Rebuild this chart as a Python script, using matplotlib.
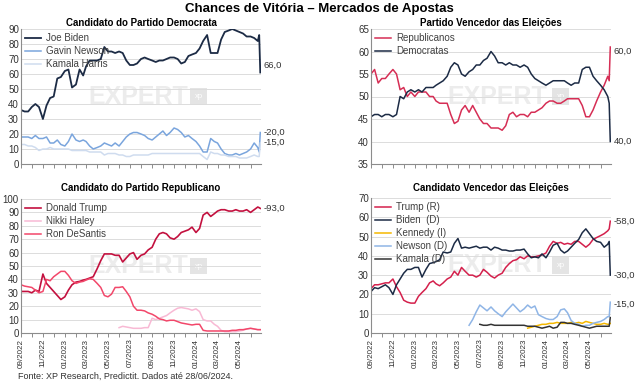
import numpy as np
import pandas as pd
import matplotlib
matplotlib.use("Agg")
import matplotlib.pyplot as plt
import matplotlib.dates as mdates

plt.rcParams['font.family'] = ['Liberation Sans', 'DejaVu Sans']

# sampling dates: 1st, 11th and 21st of each month, plus the last days of June 2024
months = pd.date_range("2022-09-01", "2024-06-01", freq="MS")
dates = [m + pd.Timedelta(days=d) for m in months for d in (0, 10, 20)]
dates += [pd.Timestamp("2024-06-25"), pd.Timestamp("2024-06-28")]
N = len(dates)

def pad(vals):
    return [np.nan] * (N - len(vals)) + vals

# --- Candidato do Partido Democrata
biden_dem = [36, 35, 35, 38, 40, 38, 30, 39, 44, 45,
             57, 58, 62, 63, 51, 53, 63, 59, 65, 69,
             69, 69, 70, 78, 75, 75, 74, 75, 74, 69,
             66, 66, 67, 70, 71, 70, 69, 68, 69, 69,
             70, 71, 71, 70, 67, 68, 72, 73, 74, 77,
             82, 86, 74, 74, 74, 83, 88, 89, 90, 89,
             88, 87, 85, 85, 84, 82, 86, 61]
newsom_dem = [18, 18, 18, 17, 19, 17, 17, 18, 14, 14,
              16, 13, 12, 15, 20, 16, 15, 16, 15, 12,
              10, 11, 12, 14, 13, 12, 14, 12, 15, 18,
              20, 21, 21, 20, 19, 17, 16, 18, 20, 22,
              19, 21, 24, 23, 21, 18, 19, 17, 15, 12,
              8, 8, 17, 15, 14, 10, 7, 6, 6, 7,
              6, 7, 8, 10, 14, 11, 8, 21]
harris_dem = [13, 13, 12, 12, 11, 9, 10, 10, 11, 10,
              10, 10, 10, 10, 9, 9, 9, 9, 9, 8,
              8, 8, 8, 6, 7, 7, 7, 6, 6, 5,
              5, 6, 6, 6, 6, 6, 7, 7, 7, 7,
              7, 7, 7, 7, 7, 7, 7, 7, 7, 7,
              5, 3, 8, 7, 7, 6, 6, 5, 5, 5,
              4, 4, 4, 5, 6, 5, 5, 14]

# --- Partido Vencedor das Eleições
rep_party = [55, 56, 53, 54, 54, 55, 56, 55, 51.5, 52,
             50, 51, 50, 51, 51, 51, 50, 50, 49, 48.5,
             48.5, 48.5, 46, 44, 44.5, 47, 48, 46.5, 48, 46.5,
             45, 44, 44, 43, 43, 43, 42.5, 43.5, 46, 46.5,
             45.5, 46, 46, 45.5, 46.5, 46.5, 47, 47.5, 48.5, 49,
             49, 48.5, 48.5, 49, 49.5, 49.5, 49.5, 49.5, 48, 45.5,
             45.5, 47, 49, 51, 52.5, 54.5, 53.5, 61]
dem_party = [45.5, 46, 46, 45.5, 46, 46, 45.5, 46, 50, 49.5,
             51, 51.5, 51, 51.5, 51, 52, 52, 52, 52.5, 53,
             53.5, 54.5, 56.5, 57.5, 57, 55, 54.5, 55.5, 56, 57,
             57, 58, 58.5, 60, 59, 57.5, 57.5, 57, 57.5, 57,
             57, 56.5, 57, 56.5, 55, 54, 53.5, 53, 52.5, 53,
             53.5, 53.5, 53.5, 53.5, 53, 52.5, 53, 53, 56, 56.5,
             56.5, 54.5, 53.5, 52.5, 51.5, 50, 48.5, 40]

# --- Candidato do Partido Republicano
trump_rep = [31, 31, 31, 30, 32, 31, 44, 37, 34, 31,
             28, 25, 27, 32, 36, 38, 38.5, 39.5, 40, 41,
             42, 48, 54, 59, 59, 59, 58, 58, 53, 56,
             59, 60, 55, 58, 59, 62, 64, 70, 74, 75,
             74, 71, 70, 72, 75, 76, 77, 79, 75, 78,
             88, 90, 87, 89, 91, 92, 92, 91, 91, 92,
             91, 91, 92, 90, 92, 94, 93.5, 93]
haley_rep = pad([4, 5, 4.5, 4, 3.5, 3.5, 3.5, 4, 4, 11,
                 10, 11, 12, 13, 15, 17, 18.5, 19, 18.5, 18,
                 17, 18, 16, 10, 9, 9, 6.5, 5, 2, 1,
                 1, 1, 1, 1.5, 2, 3, 3.5, 3, 2.5, 2.5,
                 2.5])
desantis_rep = [36, 35, 34.5, 34, 32, 30, 31, 40, 39, 42,
                44, 46, 46, 43, 39, 37, 38, 38.5, 39.5, 40.5,
                40, 37, 34, 28, 27, 29, 34, 34, 34.5, 31,
                27, 20, 17, 17, 16.5, 15, 14, 12.5, 10.5, 10,
                9, 9.5, 9.5, 8.5, 7.5, 7, 6.5, 6, 6.5, 6.5,
                2, 1.5, 1.5, 1.5, 1.5, 1.5, 1.5, 1.5, 2, 2,
                2.5, 2.5, 3, 3.5, 3, 2.5, 2.5, 2.5]

# --- Candidato Vencedor das Eleições
trump_win = [23, 25, 25, 25.5, 26, 26, 28, 24, 21, 17,
             16, 15.5, 15.5, 19, 21, 23, 26, 27, 25.5, 24.5,
             26, 28, 29, 32, 30, 34, 32, 30, 30, 29,
             30, 33, 31.5, 29.5, 28.5, 30, 31, 34, 36, 37.5,
             38, 39.5, 38.5, 40, 39.5, 39.5, 40, 40.5, 41.5, 45,
             47.5, 46.5, 47, 46, 46.5, 46, 47.5, 47.5, 46, 44.5,
             46, 48.5, 49.5, 50.5, 51.5, 53, 54, 58]
biden_win = [21.5, 23.5, 23, 24, 25, 23.5, 20, 25, 28, 31,
             33, 33, 34, 34, 29, 33, 36, 36.5, 37, 38,
             42, 41.5, 42, 46.5, 49, 44, 44.5, 44, 44.5, 45,
             44, 44.5, 44.5, 43, 44.5, 44, 43, 43, 42.5, 42.5,
             43, 43, 43.5, 41, 39, 39.5, 39, 41, 39, 42,
             45.5, 46.5, 43, 41.5, 42.5, 44.5, 46.5, 48.5, 52, 54,
             51.5, 49, 47.5, 47, 44.5, 46, 47.5, 30]
kennedy_win = pad([2.5, 3, 3.5, 4, 4.5, 4.5, 5, 5, 5.5, 5,
                   5, 5, 5.5, 5, 5.5, 5, 6, 5.5, 5, 4.5,
                   4.5, 5, 4.5, 4.5, 5])
newsom_win = pad([4, 7, 11, 14.5, 13, 11.5, 13.5, 11.5, 10, 8.5,
                  11, 13, 15, 13, 11, 12.5, 14.5, 13, 14, 9.5,
                  8.5, 7.5, 7, 7, 8.5, 12, 12.5, 10.5, 6.5, 5,
                  4.5, 3.5, 4, 4, 5, 5.5, 6, 7, 8.5, 8.5,
                  16])
harris_win = pad([4.5, 4, 4, 4.5, 4, 4, 4, 4, 4, 4,
                  4, 4, 4, 3.5, 3.5, 3.5, 3, 2.5, 3, 3.5,
                  2.5, 3, 5.5, 5.5, 5, 5, 4.5, 4, 3.5, 3,
                  2.5, 3, 3.5, 3.5, 3.5, 3.5, 3.5, 8])

NAVY = '#1c2b45'
W, H = 639, 382
fig = plt.figure(figsize=(W / 100, H / 100), dpi=100)

def make_ax(left, top, right, bottom):
    return fig.add_axes([left / W, 1 - bottom / H, (right - left) / W, (bottom - top) / H])

def style(ax, title, tpad, ylim, step, xlabels, end_labels, wm):
    ax.set_xlim(pd.Timestamp("2022-09-01"), pd.Timestamp("2024-06-30"))
    ax.set_ylim(*ylim)
    ax.set_yticks(np.arange(ylim[0], ylim[1] + 0.1, step))
    ax.set_title(title, fontsize=7, fontweight='bold', pad=tpad)
    for s in ('top', 'right'):
        ax.spines[s].set_visible(False)
    for s in ('left', 'bottom'):
        ax.spines[s].set_color('#8c8c8c')
        ax.spines[s].set_linewidth(0.8)
    ax.grid(axis='y', color='#dcdcdc', lw=0.7)
    ax.set_axisbelow(True)
    ax.xaxis.set_major_locator(mdates.MonthLocator())
    ax.xaxis.set_major_formatter(mdates.DateFormatter('%m/%Y'))
    ax.tick_params(axis='y', labelsize=7, labelcolor='#333333', length=0, pad=1.5)
    ax.tick_params(axis='x', colors='#8c8c8c', labelcolor='#333333', length=3,
                   width=0.7, pad=1)
    if xlabels:
        ax.tick_params(axis='x', labelrotation=90, labelsize=5.8)
        for i, lab in enumerate(ax.get_xticklabels()):
            lab.set_visible(i % 2 == 0)
    else:
        ax.tick_params(axis='x', labelbottom=False)
    ax.text(wm[0], 0.5, "EXPERT", transform=ax.transAxes, fontsize=18, fontweight='bold',
            color='#ececec', ha='center', va='center', zorder=0)
    ax.text(wm[1], 0.5, "xp", transform=ax.transAxes, fontsize=5.5, color='white',
            ha='center', va='center', zorder=0,
            bbox=dict(boxstyle='square,pad=0.6', fc='#e4e4e4', ec='none'))
    for txt, val in end_labels:
        ax.annotate(txt, xy=(1, val), xycoords=('axes fraction', 'data'), xytext=(2, 0),
                    textcoords='offset points', va='center', ha='left', fontsize=6.8,
                    color='#333333', annotation_clip=False)

def legend(ax):
    ax.legend(loc='upper left', frameon=False, fontsize=7, handlelength=1.6,
              handletextpad=0.5, labelspacing=0.3, borderaxespad=0.05,
              labelcolor='#404040')

fig.text(0.5, 1 - 9 / H, "Chances de Vitória – Mercados de Apostas", ha='center',
         va='center', fontsize=9.5, fontweight='bold')

# top-left
ax1 = make_ax(21, 29, 261, 164)
ax1.plot(dates, biden_dem, color=NAVY, lw=1.3, label='Joe Biden')
ax1.plot(dates, newsom_dem, color='#7aa5dd', lw=1.1, label='Gavin Newson')
ax1.plot(dates, harris_dem, color='#cfdcef', lw=1.1, label='Kamala Harris')
style(ax1, "Candidato do Partido Democrata", 2, (0, 90), 10, False,
      [("66,0", 66), ("-20,0", 20.8), ("-15,0", 14.4)], (0.49, 0.74))
legend(ax1)

# top-right
ax2 = make_ax(371, 29, 611, 164)
ax2.plot(dates, rep_party, color='#d62e55', lw=1.1, label='Republicanos')
ax2.plot(dates, dem_party, color=NAVY, lw=1.1, label='Democratas')
style(ax2, "Partido Vencedor das Eleições", 2, (35, 65), 5, False,
      [("60,0", 60), ("40,0", 40)], (0.525, 0.79))
legend(ax2)

# bottom-left
ax3 = make_ax(21, 199, 261, 333)
ax3.plot(dates, trump_rep, color='#c3113f', lw=1.2, label='Donald Trump')
ax3.plot(dates, haley_rep, color='#f8b9d4', lw=1.1, label='Nikki Haley')
ax3.plot(dates, desantis_rep, color='#f2476a', lw=1.1, label='Ron DeSantis')
style(ax3, "Candidato do Partido Republicano", 6, (0, 100), 10, True, [("-93,0", 93)],
      (0.49, 0.74))
legend(ax3)

# bottom-right
ax4 = make_ax(371, 198, 611, 333)
ax4.plot(dates, trump_win, color='#d4204c', lw=1.1, label='Trump (R)')
ax4.plot(dates, biden_win, color=NAVY, lw=1.1, label='Biden  (D)')
ax4.plot(dates, kennedy_win, color='#f5b800', lw=1.1, label='Kennedy (I)')
ax4.plot(dates, newsom_win, color='#8fb5e6', lw=1.1, label='Newson (D)')
ax4.plot(dates, harris_win, color='#333333', lw=1.1, label='Kamala (D)')
style(ax4, "Candidato Vencedor das Eleições", 5, (0, 70), 10, True,
      [("-58,0", 58), ("-30,0", 30), ("-15,0", 15)], (0.525, 0.79))
legend(ax4)

fig.text(18 / W, 1 - 376 / H, "Fonte: XP Research, Predictit. Dados até 28/06/2024.",
         fontsize=6.5, color='#333333', va='center')

fig.savefig("out.png", dpi=100)
